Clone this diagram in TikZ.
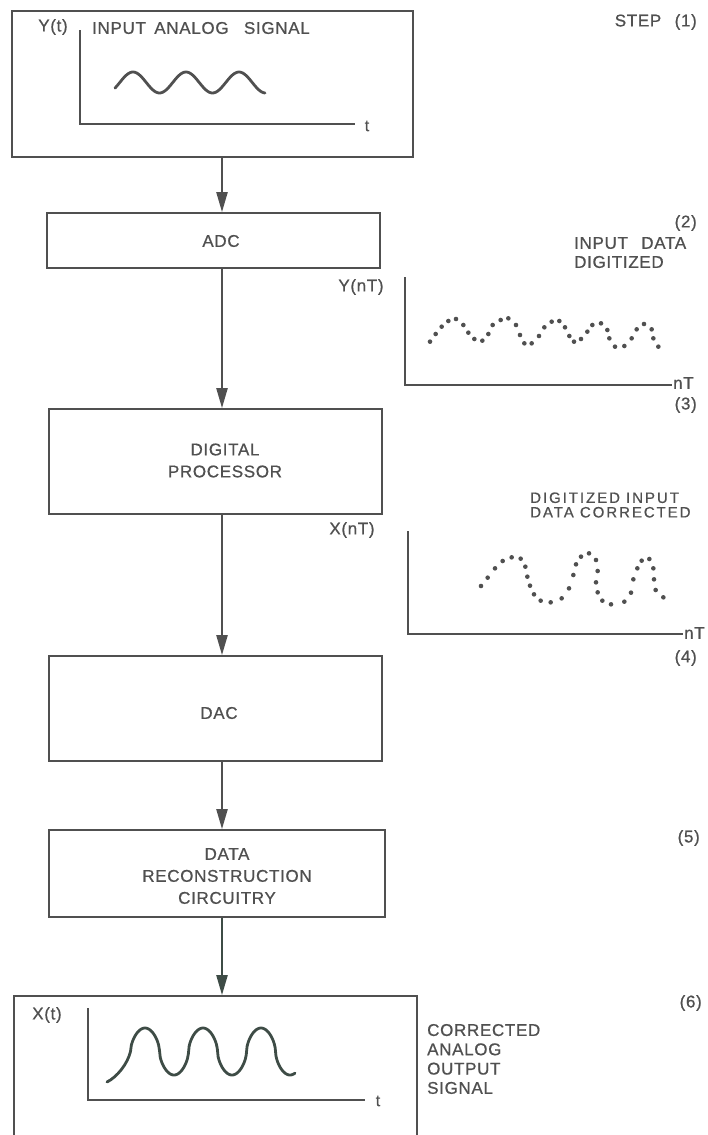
\documentclass[tikz,border=0pt]{standalone}
\usepackage{fontspec}
\setmainfont{Liberation Sans}
\newfontfamily\lett[LetterSpace=4,FakeBold=0.7]{Liberation Sans}
\newfontfamily\lettw[LetterSpace=13,FakeBold=0.6]{Liberation Sans}
\usetikzlibrary{arrows.meta}
\definecolor{ink}{HTML}{505050}
\definecolor{inkg}{HTML}{3E4C46}
\begin{document}
\begin{tikzpicture}[x=1pt,y=-1pt,
  box/.style={draw=ink, line width=1.7pt, inner sep=0pt},
  lbl/.style={text=ink, font=\lett\fontsize{17}{22}\selectfont, inner sep=0pt},
  small/.style={text=ink, font=\lettw\fontsize{15}{14.5}\selectfont, inner sep=0pt},
  arr/.style={draw=ink, line width=2.2pt, -{Triangle[length=20pt,width=11pt]}},
  axis/.style={draw=ink, line width=1.9pt},
  wave/.style={line width=2.8pt, line cap=round, line join=round}]
\useasboundingbox (0,0) rectangle (707,1135);
\clip (0,0) rectangle (707,1135);
\fill[white] (0,0) rectangle (707,1135);

% boxes
\node[box, minimum width=401pt, minimum height=146pt] (in) at (212.5,84) {};
\node[box, minimum width=333pt, minimum height=55pt] (adc) at (213.5,240.5) {};
\node[box, minimum width=333pt, minimum height=105pt] (dp) at (215.5,461.5) {};
\node[box, minimum width=333pt, minimum height=105pt] (dac) at (215.5,708.5) {};
\node[box, minimum width=336pt, minimum height=87pt] (drc) at (217,873.5) {};
\node[box, minimum width=403pt, minimum height=160pt] (out) at (215.5,1076) {};

% box texts
\node[lbl] (adct) at (221,241) {ADC};
\node[lbl, align=center] (dpt) at (225,460.5) {DIGITAL\\PROCESSOR};
\node[lbl] (dact) at (219,713) {DAC};
\node[lbl, align=center] (drct) at (227,876) {DATA\\RECONSTRUCTION\\CIRCUITRY};

% arrows
\coordinate (ax) at (222,0);
\draw[arr] (in.south -| ax) -- (adc.north -| ax);
\draw[arr] (adc.south -| ax) -- (dp.north -| ax);
\draw[arr] (dp.south -| ax) -- (dac.north -| ax);
\draw[arr] (dac.south -| ax) -- (drc.north -| ax);
\draw[arr, draw=inkg, fill=inkg] (drc.south -| ax) -- (out.north -| ax);

% step 1 : input analog signal
\node[lbl] (yt) at (53,27) {Y(t)};
\node[lbl, anchor=west] (ias) at (92,28) {INPUT\hspace{3pt} ANALOG\hspace{10pt} SIGNAL};
\node[lbl, anchor=east] (s1) at (697,22) {STEP\hspace{8pt} (1)};
\draw[axis] (80,30) |- (355,124);
\node[lbl, font=\lett\fontsize{16}{18}\selectfont] (t1) at (367,126) {t};
\draw[ink, wave] plot[domain=115:265, samples=90] (\x,{82.5-10.5*sin((\x-119.75)*6.7925)});

% step 2/3 : digitized
\node[lbl] (ynt) at (361,287) {Y(nT)};
\node[lbl, anchor=east] (s2) at (697,223) {(2)};
\node[lbl, anchor=west] (idt) at (574,243) {INPUT\hspace{8pt} DATA};
\node[lbl, anchor=west] (dgt) at (574,262) {DIGITIZED};
\draw[axis] (405,277) |- (672,385);
\node[lbl, anchor=west] (nt1) at (673,383) {nT};
\node[lbl, anchor=east] (s3) at (697,405) {(3)};
\foreach \a/\b in {180/455,197/432,215/410,235/393,258/387,280/405,295/428,313/447,337/452,355/432,368/405,392/390,415/385,438/405,450/435,463/460,485/460,507/438,523/412,545/395,568/393,585/412,598/438,612/455,633/447,652/425,667/405,693/400,712/420,718/445,735/470,763/468,785/445,800/418,822/402,845/418,850/445,865/470}
  \fill[ink] ({370+\a/3},{190+\b/3}) circle (2.3);

% step 4 : corrected
\node[small, anchor=west, align=left] (dic) at (530,505) {DIGITIZED INPUT\\DATA CORRECTED};
\node[lbl] (xnt) at (352,530) {X(nT)};
\draw[axis] (408,531) |- (683,634);
\node[lbl, anchor=west] (nt2) at (684,633) {nT};
\node[lbl, anchor=east] (s4) at (697,658) {(4)};
\foreach \a/\b in {333/258,353/233,375/205,398/183,425/172,452/176,466/200,472/230,480/257,492/283,512/302,542/307,575/295,597/265,610/225,618/193,633/170,657/160,678/180,683/213,678/247,683/277,697/302,723/313,763/305,783/278,790/238,802/205,815/182,838/177,850/205,852/238,857/270,880/292}
  \fill[ink] ({370+\a/3},{500+\b/3}) circle (2.3);

% step 5
\node[lbl, anchor=east] (s5) at (700,838) {(5)};

% step 6 : output
\node[lbl, anchor=east] (s6) at (702,1003) {(6)};
\node[lbl] (xt) at (47,1015) {X(t)};
\draw[axis] (88,1008) |- (365,1100);
\node[lbl, font=\lett\fontsize{16}{18}\selectfont] (t2) at (378,1101) {t};
\draw[inkg, wave] (107,1082) .. controls (117,1077) and (127.5,1064) .. (130.5,1051.5)
  -- plot[domain=130.5:295, samples=200] (\x,{1051.5-23.5*sin((\x-130.5)*6.2069)*(abs(sin((\x-130.5)*6.2069))+0.0001)^(-0.45)});
\node[lbl, anchor=west, align=left, font=\lett\fontsize{17}{19.3}\selectfont] (cao) at (427,1059) {CORRECTED\\ANALOG\\OUTPUT\\SIGNAL};
\end{tikzpicture}
\end{document}
